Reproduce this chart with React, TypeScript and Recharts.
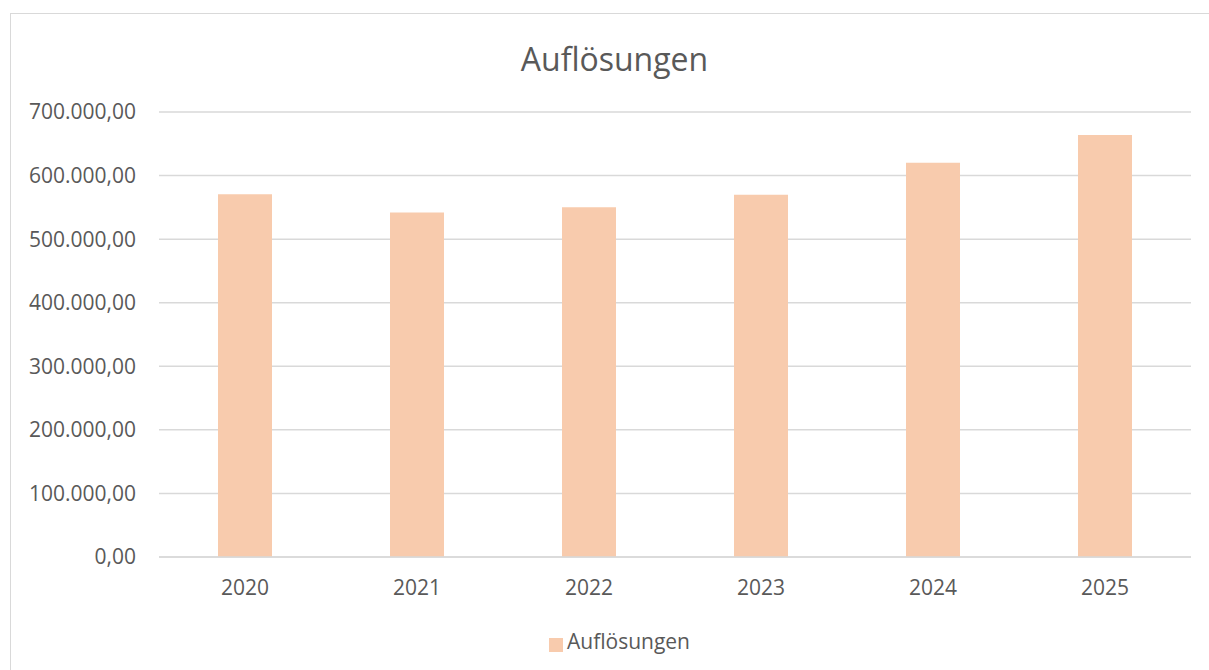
import React from "react";
import { BarChart, Bar, XAxis, YAxis, CartesianGrid, Legend } from "recharts";

const years = ["2020", "2021", "2022", "2023", "2024", "2025"];
const aufloesungen = [570500, 542000, 550000, 570000, 620000, 664000];
const yTicks = [0, 100000, 200000, 300000, 400000, 500000, 600000, 700000];
const seriesName = "Auflösungen";
const title = "Auflösungen";

const data = years.map((y, i) => ({ year: y, value: aufloesungen[i] }));

const fmt = (v: number) =>
  v.toLocaleString("de-DE", { minimumFractionDigits: 2, maximumFractionDigits: 2 });

const FONT = "'Open Sans', sans-serif";
const TEXT = "#595959";

export default function App() {
  return (
    <div style={{ position: "absolute", left: 0, top: 0, width: 1209, height: 670, background: "#fff", overflow: "hidden", fontFamily: FONT }}>
      <div style={{ position: "absolute", left: 10, top: 13, width: 1210, height: 680, border: "1.5px solid #d9d9d9", boxSizing: "border-box" }} />
      <div style={{ position: "absolute", left: 0, top: 37, width: 1229, textAlign: "center", fontSize: 32, color: TEXT, lineHeight: "44px" }}>
        {title}
      </div>
      <BarChart
        width={1209}
        height={670}
        data={data}
        margin={{ top: 112, right: 18, bottom: 0, left: 0 }}
        style={{ position: "absolute", left: 0, top: 0 }}
      >
        <CartesianGrid vertical={false} stroke="#d9d9d9" strokeWidth={1.5} />
        <XAxis
          dataKey="year"
          height={113}
          axisLine={{ stroke: "#d9d9d9", strokeWidth: 1.5 }}
          tickLine={false}
          tickSize={0}
          tickMargin={23}
          tick={{ fill: TEXT, fontSize: 21, fontFamily: FONT }}
        />
        <YAxis
          width={159}
          domain={[0, 700000]}
          ticks={yTicks}
          tickFormatter={fmt}
          axisLine={false}
          tickLine={false}
          tickSize={0}
          tickMargin={23}
          tick={{ fill: TEXT, fontSize: 21, fontFamily: FONT }}
        />
        <Bar dataKey="value" name={seriesName} fill="#F8CBAD" barSize={54} isAnimationActive={false} />
        <Legend
          layout="horizontal"
          verticalAlign="middle"
          align="center"
          iconType="square"
          iconSize={14}
          wrapperStyle={{ top: 627, left: 10, width: 1229 }}
          formatter={(v: string) => (
            <span style={{ color: TEXT, fontSize: 21, fontFamily: FONT }}>{v}</span>
          )}
        />
      </BarChart>
    </div>
  );
}
